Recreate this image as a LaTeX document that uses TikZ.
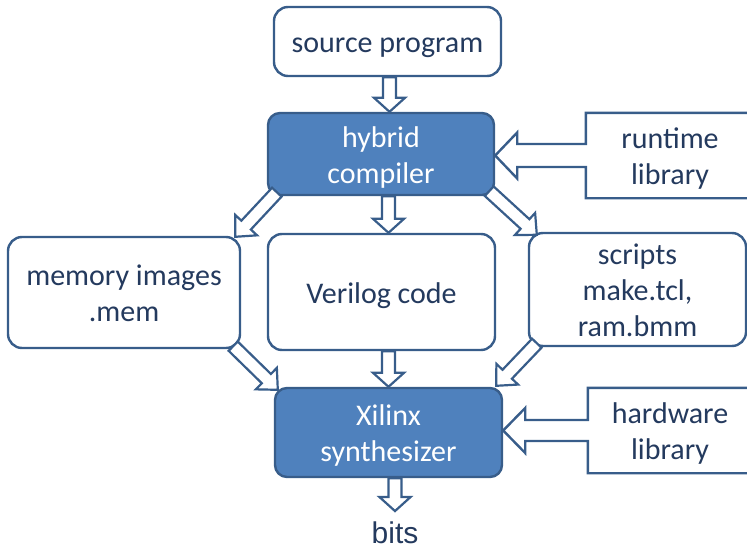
\documentclass[tikz,border=0pt]{standalone}
\usepackage{fontspec}
\setmainfont{Carlito}
\newfontfamily\bitsfont{Liberation Sans}
\usetikzlibrary{calc}
\definecolor{edgeblue}{HTML}{385D8A}
\definecolor{fillblue}{HTML}{4F81BD}
\definecolor{txtnavy}{RGB}{36,58,94}

% fixed first-line height and last-line depth, so every text block sits alike
\newcommand\topst{\rule{0pt}{29pt}}
\newcommand\botst{\rule[-7pt]{0pt}{7pt}}

\tikzset{
  txt/.style={text=txtnavy, align=center, inner sep=0pt,
    font=\fontsize{30}{36}\selectfont},
  box/.style={txt, rectangle, rounded corners=14pt, draw=edgeblue,
    line width=2.4pt, fill=white},
  stage/.style={box, fill=fillblue, text=white, rounded corners=12pt},
  callout/.style={draw=edgeblue, line width=2.4pt, line join=miter},
  % hollow block arrow: #1 shaft half-width, #2 head half-width, #3 head length
  hollow/.style n args={3}{draw=edgeblue, fill=white, line width=2.2pt,
    line join=miter,
    to path={
      ($(\tikztostart)!#1!90:(\tikztotarget)$)
      -- ($($(\tikztotarget)!#3!(\tikztostart)$)!#1!90:(\tikztotarget)$)
      -- ($($(\tikztotarget)!#3!(\tikztostart)$)!#2!90:(\tikztotarget)$)
      -- (\tikztotarget)
      -- ($($(\tikztotarget)!#3!(\tikztostart)$)!#2!-90:(\tikztotarget)$)
      -- ($($(\tikztotarget)!#3!(\tikztostart)$)!#1!-90:(\tikztotarget)$)
      -- ($(\tikztostart)!#1!-90:(\tikztotarget)$)
      -- cycle}},
  vflow/.style={hollow={6.5pt}{15.5pt}{14pt}},
  dflow/.style={hollow={6.5pt}{15pt}{16pt}}
}

\begin{document}
\begin{tikzpicture}[x=1pt,y=-1pt]
\useasboundingbox (0,0) rectangle (747,549);

% main boxes
\node[box, minimum width=227pt, minimum height=69pt] (src) at (387.5,41.5) {\topst source program\botst};
\node[stage, minimum width=226pt, minimum height=82pt] (hyb) at (381,154) {\topst hybrid\\compiler\botst};
\node[box, minimum width=232pt, minimum height=111pt] (mem) at (124,292.5) {\topst memory images\\.mem\botst};
\node[box, minimum width=227pt, minimum height=116pt] (ver) at (381.5,292) {\topst Verilog code\botst};
\node[box, minimum width=217pt, minimum height=113pt] (scr) at (637.5,289.5) {\topst scripts\\make.tcl,\\ram.bmm\botst};
\node[stage, minimum width=227pt, minimum height=89pt] (xil) at (388.5,432.5) {\topst Xilinx\\synthesizer\botst};
\node[txt, font=\bitsfont\fontsize{30}{36}\selectfont, anchor=base] (bits) at (395,543) {bits};

% library callouts
\node[txt, minimum width=168pt, minimum height=85pt] (rt) at (670,155.5) {\topst runtime\\library\botst};
\node[txt, minimum width=164pt, minimum height=85pt] (hw) at (670,430.5) {\topst hardware\\library\botst};
\coordinate (rtip) at (hyb.east |- rt.west);
\coordinate (htip) at (xil.east |- hw.west);
\draw[callout] (rt.north east) -- (rt.north west) -- ([yshift=11.5pt]rt.west)
  -- ([xshift=22pt,yshift=11.5pt]rtip) -- ([xshift=22pt,yshift=23pt]rtip) -- (rtip)
  -- ([xshift=22pt,yshift=-23pt]rtip) -- ([xshift=22pt,yshift=-11.5pt]rtip)
  -- ([yshift=-11.5pt]rt.west) -- (rt.south west) -- (rt.south east);
\draw[callout] (hw.north east) -- (hw.north west) -- ([yshift=10.5pt]hw.west)
  -- ([xshift=22pt,yshift=10.5pt]htip) -- ([xshift=22pt,yshift=22.5pt]htip) -- (htip)
  -- ([xshift=22pt,yshift=-22.5pt]htip) -- ([xshift=22pt,yshift=-10.5pt]htip)
  -- ([yshift=-10.5pt]hw.west) -- (hw.south west) -- (hw.south east);

% arrow end points
\coordinate (a1s) at ([xshift=2pt]src.south);
\coordinate (a1e) at (a1s |- hyb.north);
\coordinate (a2s) at ([xshift=7.5pt]hyb.south);
\coordinate (a2e) at (a2s |- ver.north);
\coordinate (a3s) at ([xshift=7pt]ver.south);
\coordinate (a3e) at (a3s |- xil.north);
\coordinate (a4s) at (bits.north |- xil.south);
\coordinate (a4e) at ([yshift=10pt]bits.north);
\coordinate (d1s) at ([xshift=10pt,yshift=4pt]hyb.south west);
\coordinate (d1e) at ([xshift=-6pt,yshift=-1pt]mem.north east);
\coordinate (d2s) at ([xshift=-6pt,yshift=5pt]hyb.south east);
\coordinate (d2e) at ([xshift=9pt,yshift=-3pt]scr.north west);
\coordinate (d3s) at ([xshift=-8pt,yshift=3pt]mem.south east);
\coordinate (d3e) at ([xshift=4pt,yshift=-3pt]xil.north west);
\coordinate (d4s) at ([xshift=9pt,yshift=4pt]scr.south west);
\coordinate (d4e) at ([xshift=-7pt,yshift=1pt]xil.north east);

% flow arrows
\draw[vflow] (a1s) to (a1e);
\draw[vflow] (a2s) to (a2e);
\draw[vflow] (a3s) to (a3e);
\draw[vflow] (a4s) to (a4e);
\draw[dflow] (d1s) to (d1e);
\draw[dflow] (d2s) to (d2e);
\draw[dflow] (d3s) to (d3e);
\draw[dflow] (d4s) to (d4e);
\end{tikzpicture}
\end{document}
